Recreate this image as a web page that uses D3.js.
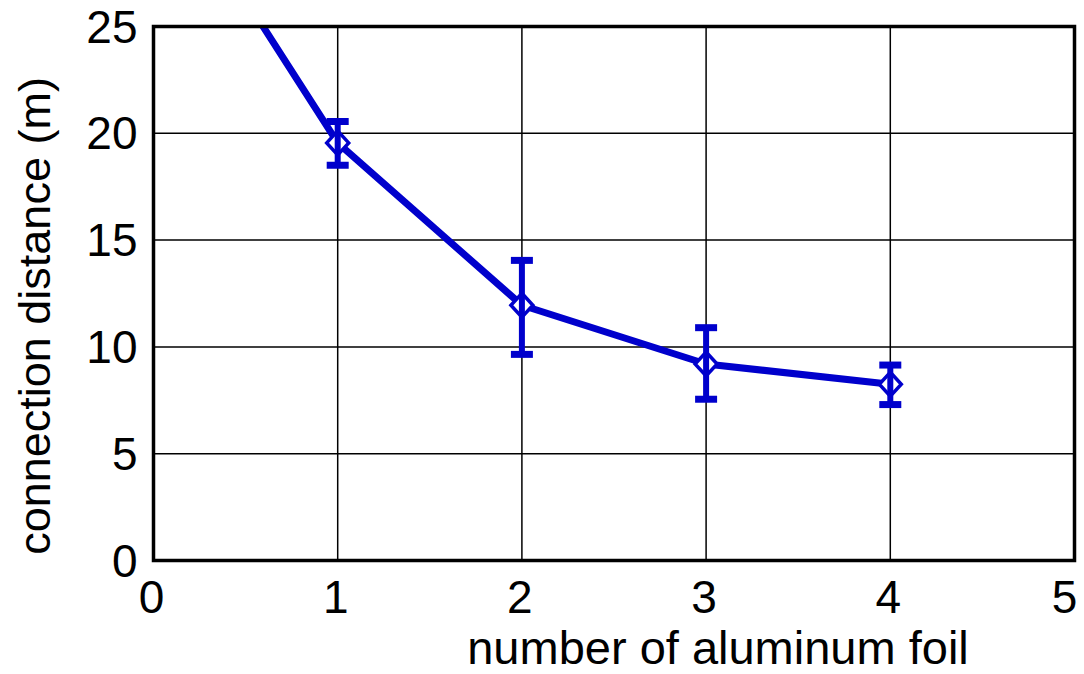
<!DOCTYPE html>
<html>
<head>
<meta charset="utf-8">
<script src="https://cdn.jsdelivr.net/npm/d3@7"></script>
<style>
    body { margin: 0; background: #fff; }
    text { font-family: "Liberation Sans", Arial, sans-serif; fill: #000; }
</style>
</head>
<body>
<div id="chart"></div>
<script>
// data
const foilCounts = [0, 1, 2, 3, 4];
const distances = [33.0, 19.55, 11.95, 9.2, 8.25];
const errLow = [null, 18.5, 9.65, 7.55, 7.3];
const errHigh = [null, 20.55, 14.05, 10.9, 9.15];
const xTicks = [0, 1, 2, 3, 4, 5];
const yTicks = [0, 5, 10, 15, 20, 25];
const xTitle = "number of aluminum foil";
const yTitle = "connection distance (m)";

const W = 1084, H = 674;
const margin = { top: 26.5, right: 9.5, bottom: 113.5, left: 153.5 };
const width = W - margin.left - margin.right;
const height = H - margin.top - margin.bottom;
const blue = "#0000cc";

const svg = d3.select("#chart")
    .append("svg")
    .attr("width", W)
    .attr("height", H);

const g = svg.append("g")
    .attr("transform", `translate(${margin.left},${margin.top})`);

const x = d3.scaleLinear().domain([0, 5]).range([0, width]);
const y = d3.scaleLinear().domain([0, 25]).range([height, 0]);

// grid
g.append("g")
    .selectAll("line")
    .data(xTicks.slice(1, -1))
    .join("line")
    .attr("x1", d => x(d)).attr("x2", d => x(d))
    .attr("y1", 0).attr("y2", height)
    .attr("stroke", "#000").attr("stroke-width", 1.5);
g.append("g")
    .selectAll("line")
    .data(yTicks.slice(1, -1))
    .join("line")
    .attr("x1", 0).attr("x2", width)
    .attr("y1", d => y(d)).attr("y2", d => y(d))
    .attr("stroke", "#000").attr("stroke-width", 1.5);

// tick labels (last one pulled in so it stays on the page)
g.append("g")
    .selectAll("text")
    .data(xTicks)
    .join("text")
    .attr("x", d => Math.min(x(d) - 2, width - 10))
    .attr("y", height + 52)
    .attr("text-anchor", "middle")
    .attr("font-size", 46)
    .text(d => d);
g.append("g")
    .selectAll("text")
    .data(yTicks)
    .join("text")
    .attr("x", -16)
    .attr("y", d => y(d) + 16)
    .attr("text-anchor", "end")
    .attr("font-size", 46)
    .text(d => d);

// titles
svg.append("text")
    .attr("x", 718)
    .attr("y", 664)
    .attr("text-anchor", "middle")
    .attr("font-size", 47)
    .text(xTitle);
svg.append("text")
    .attr("transform", "translate(50,316) rotate(-90)")
    .attr("text-anchor", "middle")
    .attr("font-size", 45)
    .text(yTitle);

// clip for the series
svg.append("defs").append("clipPath")
    .attr("id", "plot-clip")
    .append("rect")
    .attr("width", width)
    .attr("height", height);

const series = g.append("g").attr("clip-path", "url(#plot-clip)");
const points = foilCounts.map((f, i) => ({ f, v: distances[i], lo: errLow[i], hi: errHigh[i] }));

series.append("path")
    .datum(points)
    .attr("d", d3.line().x(d => x(d.f)).y(d => y(d.v)))
    .attr("fill", "none")
    .attr("stroke", blue)
    .attr("stroke-width", 7)
    .attr("stroke-linejoin", "round");

const bars = points.filter(d => d.lo !== null);

series.selectAll(".marker")
    .data(bars)
    .join("path")
    .attr("class", "marker")
    .attr("transform", d => `translate(${x(d.f)},${y(d.v)})`)
    .attr("d", "M0,-12L11,0L0,12L-11,0Z")
    .attr("fill", "#fff")
    .attr("stroke", blue)
    .attr("stroke-width", 3.5);

series.selectAll(".err")
    .data(bars)
    .join("line")
    .attr("class", "err")
    .attr("x1", d => x(d.f)).attr("x2", d => x(d.f))
    .attr("y1", d => y(d.lo)).attr("y2", d => y(d.hi))
    .attr("stroke", blue).attr("stroke-width", 6);
series.selectAll(".cap")
    .data(bars.flatMap(d => [{ f: d.f, v: d.lo }, { f: d.f, v: d.hi }]))
    .join("line")
    .attr("class", "cap")
    .attr("x1", d => x(d.f) - 11).attr("x2", d => x(d.f) + 11)
    .attr("y1", d => y(d.v)).attr("y2", d => y(d.v))
    .attr("stroke", blue).attr("stroke-width", 7);

// frame
g.append("rect")
    .attr("width", width)
    .attr("height", height)
    .attr("fill", "none")
    .attr("stroke", "#000")
    .attr("stroke-width", 3.5);
</script>
</body>
</html>
